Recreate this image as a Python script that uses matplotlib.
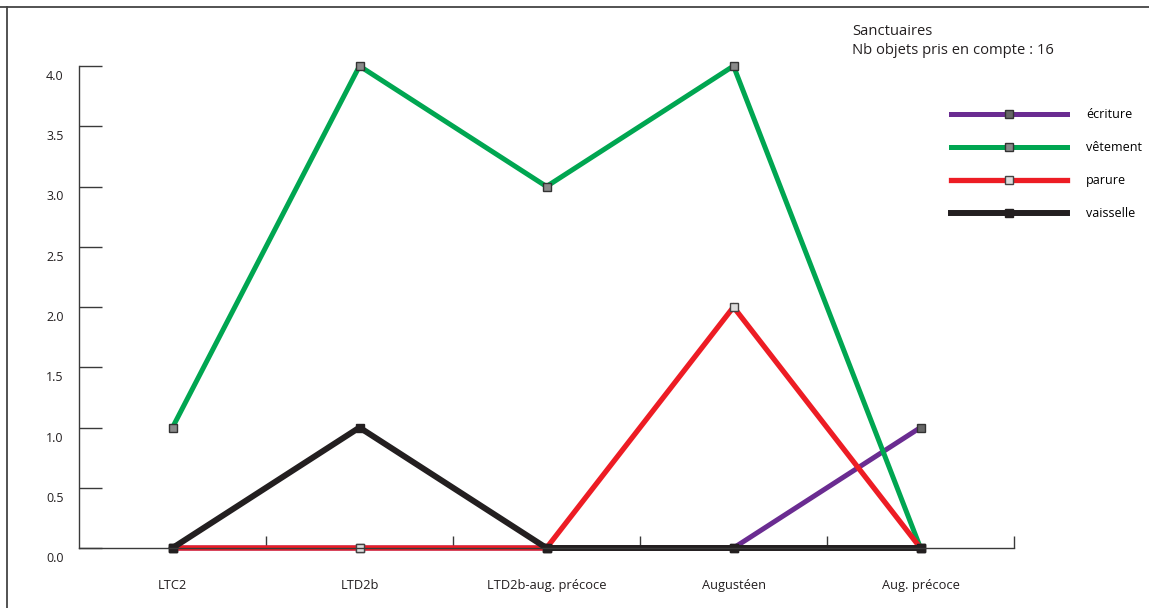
import matplotlib.pyplot as plt
from matplotlib.lines import Line2D
from matplotlib.transforms import ScaledTranslation

plt.rcParams["font.family"] = ["Open Sans", "DejaVu Sans"]

# Data
periods = ["LTC2", "LTD2b", "LTD2b-aug. précoce", "Augustéen", "Aug. précoce"]
ecriture = [0, 0, 0, 0, 1]
vetement = [1, 4, 3, 4, 0]
parure = [0, 0, 0, 2, 0]
vaisselle = [0, 1, 0, 0, 0]
yticks = [0.0, 0.5, 1.0, 1.5, 2.0, 2.5, 3.0, 3.5, 4.0]

fig = plt.figure(figsize=(11.49, 6.08), dpi=100)
ax = fig.add_axes([79 / 1149, 60 / 608, (1014 - 79) / 1149, (548 - 66) / 608])

x = list(range(len(periods)))
series = [
    (ecriture, "écriture", "#6a2c91", "#666666", "#333333", 3.6),
    (vetement, "vêtement", "#00a651", "#8a8a8a", "#333333", 3.6),
    (parure, "parure", "#ed1c24", "#dddddd", "#444444", 3.8),
    (vaisselle, "vaisselle", "#231f20", "#231f20", "#231f20", 4.3),
]
for vals, label, col, mfc, mec, lw in series:
    ax.plot(x, vals, color=col, lw=lw, marker="s", markersize=6,
            markerfacecolor=mfc, markeredgecolor=mec, markeredgewidth=1,
            label=label, clip_on=False, solid_joinstyle="miter")

ax.set_xlim(-0.5, 4.5)
ax.set_ylim(0, 4)

for s in ["top", "right"]:
    ax.spines[s].set_visible(False)
for s in ["left", "bottom"]:
    ax.spines[s].set_color("#3a3a3a")
    ax.spines[s].set_linewidth(1)

ax.set_yticks(yticks)
ax.set_yticklabels([f"{v:.1f}" for v in yticks])
ax.tick_params(axis="y", direction="in", length=16.5, width=1, color="#3a3a3a",
               pad=11, labelsize=9, labelcolor="#231f20")
offset = ScaledTranslation(0, -9 / 100, fig.dpi_scale_trans)
for lab in ax.get_yticklabels():
    lab.set_transform(lab.get_transform() + offset)

ax.set_xticks(x)
ax.set_xticklabels(periods)
ax.tick_params(axis="x", which="major", length=0, pad=22, labelsize=9.3,
               labelcolor="#231f20")
ax.set_xticks([i + 0.5 for i in x], minor=True)
ax.tick_params(axis="x", which="minor", direction="in", length=8.5, width=1,
               color="#3a3a3a")

# Legend
fig.legend(loc="upper left", bbox_to_anchor=(951 / 1149, 1 - 108 / 608),
           frameon=False, fontsize=9, handlelength=9.3, handletextpad=1.5,
           labelspacing=1.6, borderpad=0, borderaxespad=0)

# Title text
fig.text(852 / 1149, 1 - 41 / 608, "Sanctuaires\nNb objets pris en compte : 16",
         fontsize=10.6, va="center", ha="left", color="#231f20", linespacing=1.4)

# Frame lines
fig.add_artist(Line2D([0, 1], [1 - 7 / 608, 1 - 7 / 608], color="#444444",
                      lw=1.3, transform=fig.transFigure))
fig.add_artist(Line2D([7 / 1149, 7 / 1149], [0, 1 - 7 / 608], color="#444444",
                      lw=1.3, transform=fig.transFigure))

fig.savefig("out.png", dpi=100)
